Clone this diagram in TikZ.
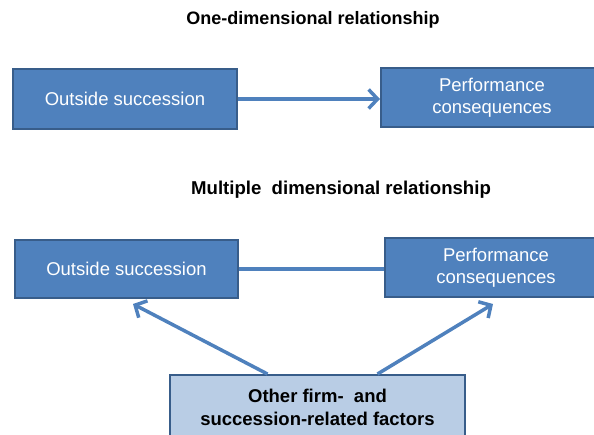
\documentclass[tikz,border=0pt]{standalone}
\usepackage{fontspec}
\setmainfont{Liberation Sans}
\usepackage{xcolor}
\usetikzlibrary{arrows.meta}

\definecolor{boxblue}{HTML}{4F81BD}
\definecolor{edgeblue}{HTML}{385D8A}
\definecolor{paleblue}{HTML}{B9CDE5}

\tikzset{
    darkbox/.style={draw=edgeblue,line width=2pt,fill=boxblue,text=white,align=center,font=\fontsize{18.5}{22}\selectfont},
    palebox/.style={draw=edgeblue,line width=2pt,fill=paleblue,text=black,align=center,font=\fontsize{18.5}{23}\selectfont\bfseries},
    heading/.style={font=\fontsize{18}{22}\selectfont\bfseries},
    link/.style={boxblue,line width=3.5pt},
    arr/.style={link,-{Straight Barb[length=9pt,width=19pt,line width=3.5pt]}}
}

\begin{document}
\begin{tikzpicture}[x=1pt,y=-1pt]
        \useasboundingbox (0,0) rectangle (594,434);
        % upper part
        \node[heading] (title1) at (313,20) {One-dimensional relationship};
        \node[darkbox,minimum width=224pt,minimum height=60pt] (a1) at (125,99) {Outside succession};
        \node[darkbox,minimum width=222pt,minimum height=59pt] (b1) at (492,97.5) {Performance\\consequences};
        \draw[arr] (a1) -- (a1 -| b1.west);
        % lower part
        \node[heading,font=\fontsize{18.6}{22}\selectfont\bfseries] (title2) at (341,190) {Multiple\ \ dimensional relationship};
        \node[darkbox,minimum width=223pt,minimum height=58pt] (a2) at (126.5,269) {Outside succession};
        \node[darkbox,minimum width=222pt,minimum height=59pt] (b2) at (496,267.5) {Performance\\consequences};
        \draw[link] (a2) -- (a2 -| b2.west);
        \node[palebox,minimum width=295pt,minimum height=64pt] (c) at (317.5,407) {Other firm-\ \ and\\succession-related factors};
        \draw[arr] ([xshift=-50pt]c.north) -- ([xshift=6.5pt,yshift=-5pt]a2.south);
        \draw[arr] ([xshift=60pt]c.north) -- ([xshift=-3pt,yshift=-6pt]b2.south);
    \end{tikzpicture}
\end{document}
